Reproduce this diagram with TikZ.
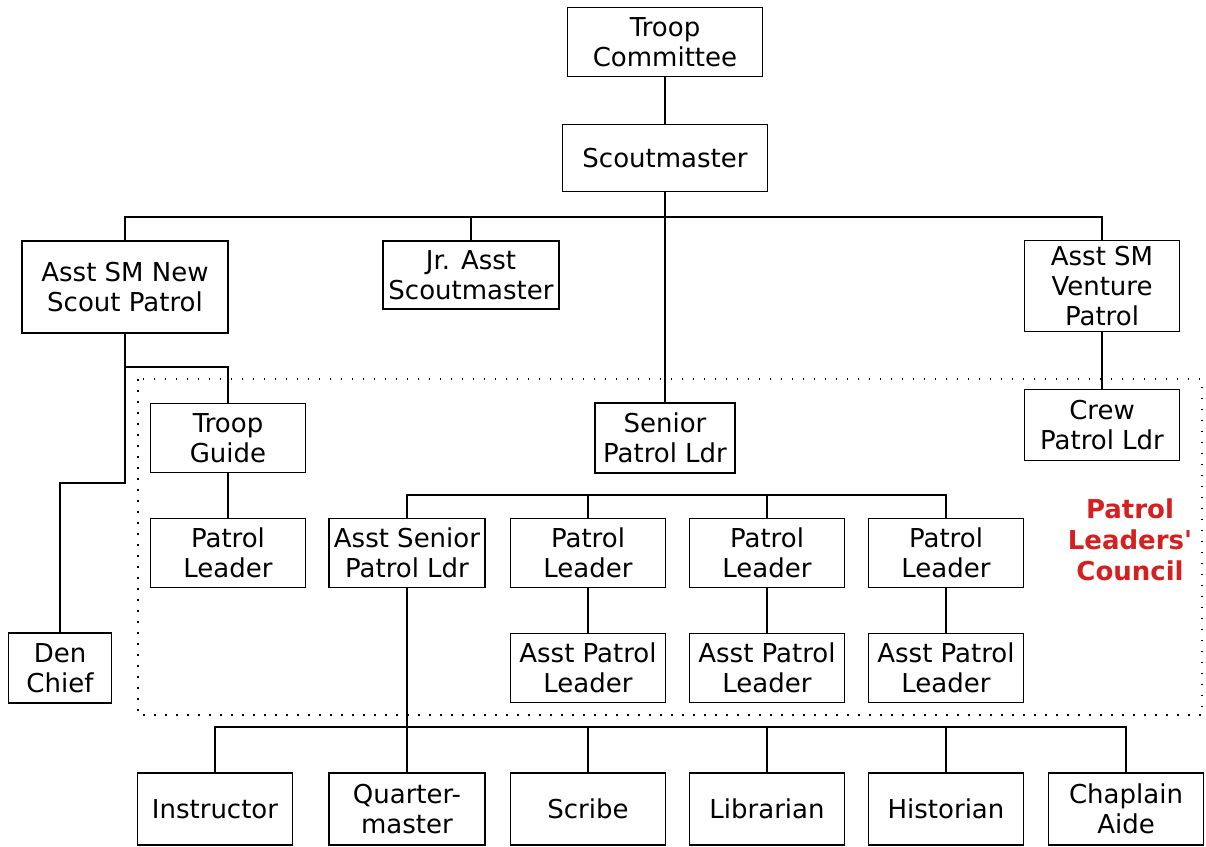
\documentclass[tikz,border=0pt]{standalone}
\usepackage{fontspec}
\newfontfamily\chartfont{DejaVu Sans}
\definecolor{councilred}{RGB}{212,32,32}
\tikzset{
  post/.style={draw, line width=1.6pt, align=center, inner sep=0pt,
    font=\chartfont\fontsize{26}{30}\selectfont},
  std/.style={post, minimum width=155pt, minimum height=69pt},
  link/.style={line width=1.6pt}
}

\begin{document}
\begin{tikzpicture}[x=1pt,y=-1pt]
\useasboundingbox (0,0) rectangle (1206,846);
% top of the troop
\node[post, minimum width=195pt, minimum height=69pt] (tc) at (665,42) {Troop\\Committee};
\node[post, minimum width=205pt, minimum height=67pt] (sm) at (665,158) {Scoutmaster};
\node[post, minimum width=206pt, minimum height=92pt] (asmnew) at (125,287) {Asst SM New\\Scout Patrol};
\node[post, minimum width=176pt, minimum height=68pt] (jasm) at (471,275) {Jr. Asst\\Scoutmaster};
\node[std, minimum height=91pt] (asmvent) at (1102,286) {Asst SM\\Venture\\Patrol};
% council
\draw[line width=1.5pt, dash pattern=on 1.5pt off 9.5pt] (138,379) rectangle (1202,715);
\node[std] (tg) at (228,438) {Troop\\Guide};
\node[std] (pl0) at (228,553) {Patrol\\Leader};
\node[post, minimum width=103pt, minimum height=70pt] (den) at (60,668) {Den\\Chief};
\node[post, minimum width=140pt, minimum height=70pt] (spl) at (665,438) {Senior\\Patrol Ldr};
\node[std, minimum width=156pt] (aspl) at (407,553) {Asst Senior\\Patrol Ldr};
\node[std] (pl1) at (588,553) {Patrol\\Leader};
\node[std] (pl2) at (767,553) {Patrol\\Leader};
\node[std] (pl3) at (946,553) {Patrol\\Leader};
\node[std] (apl1) at (588,668) {Asst Patrol\\Leader};
\node[std] (apl2) at (767,668) {Asst Patrol\\Leader};
\node[std] (apl3) at (946,668) {Asst Patrol\\Leader};
\node[std, minimum height=71pt] (crew) at (1102,425) {Crew\\Patrol Ldr};
\node[font=\chartfont\bfseries\fontsize{26}{31}\selectfont, text=councilred, align=center] (plc) at (1130,540) {Patrol\\Leaders'\\Council};
% staff
\node[std, minimum height=72pt] (instr) at (215,809) {Instructor};
\node[std, minimum width=156pt, minimum height=72pt] (qm) at (407,809) {Quarter-\\master};
\node[std, minimum height=72pt] (scribe) at (588,809) {Scribe};
\node[std, minimum height=72pt] (lib) at (767,809) {Librarian};
\node[std, minimum height=72pt] (hist) at (946,809) {Historian};
\node[std, minimum height=72pt] (chap) at (1126,809) {Chaplain\\Aide};
% lines
\coordinate (bus1) at (665,217);
\coordinate (bus2) at (665,495);
\coordinate (bus3) at (407,727);
\coordinate (j1) at (125,367);
\coordinate (j2) at (125,483);
\draw[link] (tc.south) -- (sm.north);
\draw[link] (sm.south) -- (spl.north);
\draw[link] (asmnew.north) |- (bus1) -| (asmvent.north);
\draw[link] (jasm.north) |- (bus1);
\draw[link] (asmvent.south) -- (crew.north);
\draw[link] (asmnew.south) -- (j1) -| (tg.north);
\draw[link] (j1) -- (j2) -| (den.north);
\draw[link] (tg.south) -- (pl0.north);
\draw[link] (aspl.north) |- (bus2) -| (pl3.north);
\draw[link] (pl1.north) |- (bus2);
\draw[link] (pl2.north) |- (bus2);
\draw[link] (pl1.south) -- (apl1.north);
\draw[link] (pl2.south) -- (apl2.north);
\draw[link] (pl3.south) -- (apl3.north);
\draw[link] (aspl.south) -- (qm.north);
\draw[link] (instr.north) |- (bus3) -| (chap.north);
\draw[link] (scribe.north) |- (bus3);
\draw[link] (lib.north) |- (bus3);
\draw[link] (hist.north) |- (bus3);
\end{tikzpicture}
\end{document}
